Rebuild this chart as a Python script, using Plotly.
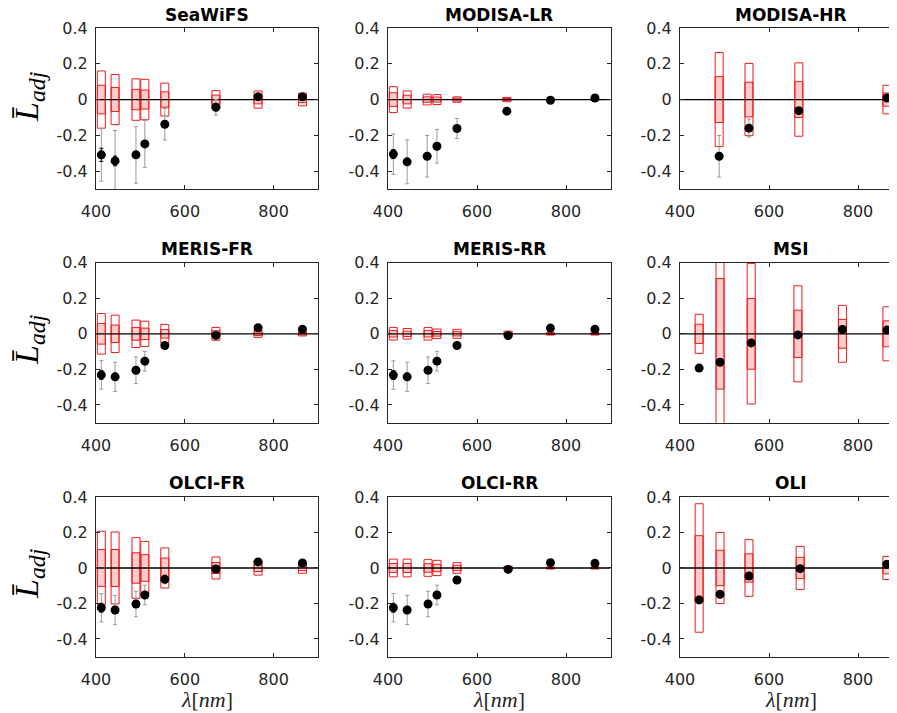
import plotly.graph_objects as go

# ---------------- data ----------------
SEAWIFS_WL = [412, 443, 490, 510, 555, 670, 765, 865]
SEAWIFS_OUTER = [0.160, 0.140, 0.116, 0.113, 0.092, 0.050, 0.048, 0.035]
SEAWIFS_INNER = [0.080, 0.067, 0.057, 0.053, 0.043, 0.025, 0.024, 0.017]
SEAWIFS_MEAN = [-0.309, -0.343, -0.309, -0.248, -0.138, -0.043, 0.016, 0.015]
SEAWIFS_SD = [0.147, 0.170, 0.158, 0.131, 0.088, 0.043, 0.010, 0.010]
SEAWIFS_SE = [0.037, 0.027, 0.015, 0.012, 0.010, 0.005, 0.003, 0.003]

MODISALR_WL = [412, 443, 488, 510, 555, 667, 765, 865]
MODISALR_OUTER = [0.072, 0.048, 0.030, 0.028, 0.015, 0.012, 0.005, 0.005]
MODISALR_INNER = [0.038, 0.024, 0.015, 0.014, 0.008, 0.006, 0.003, 0.003]
MODISALR_MEAN = [-0.305, -0.348, -0.317, -0.261, -0.162, -0.065, -0.004, 0.009]
MODISALR_SD = [0.113, 0.123, 0.116, 0.094, 0.056, 0.008, 0.005, 0.005]
MODISALR_SE = [0.025, 0.015, 0.012, 0.010, 0.008, 0.003, 0.002, 0.002]

MODISAHR_WL = [488, 555, 667, 865]
MODISAHR_OUTER = [0.263, 0.202, 0.205, 0.080]
MODISAHR_INNER = [0.128, 0.097, 0.100, 0.037]
MODISAHR_MEAN = [-0.317, -0.160, -0.062, 0.009]
MODISAHR_SD = [0.116, 0.050, 0.010, 0.005]
MODISAHR_SE = [0.015, 0.012, 0.004, 0.002]

MERISFR_WL = [412, 443, 490, 510, 555, 670, 765, 865]
MERISFR_OUTER = [0.114, 0.105, 0.077, 0.071, 0.053, 0.036, 0.020, 0.012]
MERISFR_INNER = [0.058, 0.049, 0.036, 0.032, 0.024, 0.017, 0.010, 0.006]
MERISFR_MEAN = [-0.231, -0.242, -0.205, -0.154, -0.066, -0.009, 0.034, 0.025]
MERISFR_SD = [0.080, 0.082, 0.075, 0.055, 0.015, 0.010, 0.005, 0.005]
MERISFR_SE = [0.025, 0.020, 0.012, 0.010, 0.005, 0.003, 0.002, 0.002]

MERISRR_WL = [412, 443, 490, 510, 555, 670, 765, 865]
MERISRR_OUTER = [0.035, 0.030, 0.035, 0.027, 0.025, 0.015, 0.007, 0.007]
MERISRR_INNER = [0.018, 0.015, 0.018, 0.013, 0.012, 0.007, 0.004, 0.004]
MERISRR_MEAN = [-0.232, -0.242, -0.205, -0.154, -0.066, -0.010, 0.032, 0.025]
MERISRR_SD = [0.080, 0.082, 0.075, 0.055, 0.015, 0.010, 0.005, 0.005]
MERISRR_SE = [0.025, 0.020, 0.012, 0.010, 0.005, 0.003, 0.002, 0.002]

MSI_WL = [443, 490, 560, 665, 765, 865]
MSI_OUTER = [0.110, 0.620, 0.395, 0.270, 0.160, 0.152]
MSI_INNER = [0.054, 0.311, 0.199, 0.133, 0.081, 0.073]
MSI_MEAN = [-0.193, -0.160, -0.051, -0.006, 0.024, 0.021]
MSI_SD = [0.010, 0.010, 0.008, 0.005, 0.005, 0.005]
MSI_SE = [0.004, 0.004, 0.003, 0.002, 0.002, 0.002]

OLCIFR_WL = [412, 443, 490, 510, 555, 670, 765, 865]
OLCIFR_OUTER = [0.207, 0.203, 0.171, 0.150, 0.113, 0.062, 0.040, 0.030]
OLCIFR_INNER = [0.104, 0.104, 0.086, 0.075, 0.056, 0.031, 0.020, 0.015]
OLCIFR_MEAN = [-0.224, -0.237, -0.203, -0.152, -0.064, -0.006, 0.034, 0.028]
OLCIFR_SD = [0.080, 0.082, 0.072, 0.055, 0.025, 0.010, 0.005, 0.005]
OLCIFR_SE = [0.025, 0.020, 0.012, 0.010, 0.005, 0.003, 0.002, 0.002]

OLCIRR_WL = [412, 443, 490, 510, 555, 670, 765, 865]
OLCIRR_OUTER = [0.050, 0.050, 0.047, 0.043, 0.030, 0.010, 0.006, 0.006]
OLCIRR_INNER = [0.025, 0.025, 0.024, 0.021, 0.015, 0.005, 0.003, 0.003]
OLCIRR_MEAN = [-0.224, -0.237, -0.203, -0.152, -0.068, -0.008, 0.030, 0.026]
OLCIRR_SD = [0.080, 0.082, 0.072, 0.055, 0.015, 0.008, 0.005, 0.005]
OLCIRR_SE = [0.025, 0.020, 0.012, 0.010, 0.005, 0.003, 0.002, 0.002]

OLI_WL = [443, 490, 555, 670, 865]
OLI_OUTER = [0.362, 0.200, 0.160, 0.122, 0.065]
OLI_INNER = [0.182, 0.100, 0.080, 0.060, 0.033]
OLI_MEAN = [-0.180, -0.148, -0.045, -0.004, 0.021]
OLI_SD = [0.020, 0.020, 0.015, 0.010, 0.005]
OLI_SE = [0.020, 0.018, 0.006, 0.003, 0.002]

PANEL_TITLES = ["SeaWiFS", "MODISA-LR", "MODISA-HR",
                "MERIS-FR", "MERIS-RR", "MSI",
                "OLCI-FR", "OLCI-RR", "OLI"]

X_TICKS = [400, 600, 800]
X_TICK_LABELS = ["400", "600", "800"]
Y_TICKS = [-0.4, -0.2, 0, 0.2, 0.4]
Y_TICK_LABELS = ["-0.4", "-0.2", "0", "0.2", "0.4"]

PANELS = [
    (PANEL_TITLES[0], SEAWIFS_WL, SEAWIFS_OUTER, SEAWIFS_INNER, SEAWIFS_MEAN, SEAWIFS_SD, SEAWIFS_SE),
    (PANEL_TITLES[1], MODISALR_WL, MODISALR_OUTER, MODISALR_INNER, MODISALR_MEAN, MODISALR_SD, MODISALR_SE),
    (PANEL_TITLES[2], MODISAHR_WL, MODISAHR_OUTER, MODISAHR_INNER, MODISAHR_MEAN, MODISAHR_SD, MODISAHR_SE),
    (PANEL_TITLES[3], MERISFR_WL, MERISFR_OUTER, MERISFR_INNER, MERISFR_MEAN, MERISFR_SD, MERISFR_SE),
    (PANEL_TITLES[4], MERISRR_WL, MERISRR_OUTER, MERISRR_INNER, MERISRR_MEAN, MERISRR_SD, MERISRR_SE),
    (PANEL_TITLES[5], MSI_WL, MSI_OUTER, MSI_INNER, MSI_MEAN, MSI_SD, MSI_SE),
    (PANEL_TITLES[6], OLCIFR_WL, OLCIFR_OUTER, OLCIFR_INNER, OLCIFR_MEAN, OLCIFR_SD, OLCIFR_SE),
    (PANEL_TITLES[7], OLCIRR_WL, OLCIRR_OUTER, OLCIRR_INNER, OLCIRR_MEAN, OLCIRR_SD, OLCIRR_SE),
    (PANEL_TITLES[8], OLI_WL, OLI_OUTER, OLI_INNER, OLI_MEAN, OLI_SD, OLI_SE),
]

# ---------------- style / geometry (pixel positions in the 897x713 view) ----------------
VIEW_W, VIEW_H = 897, 713
PAGE_MARGIN = 8  # default body margin of the html page
W, H = VIEW_W - PAGE_MARGIN, VIEW_H - PAGE_MARGIN
X_MIN, X_MAX = 400, 900
Y_MIN, Y_MAX = -0.5, 0.4
BOX_HW = 9  # half width of the boxes in nm
COL_PX = [(96, 318), (388, 610.5), (680, 902.5)]
ROW_PX = [(28, 189), (262.7, 422.7), (497, 656.7)]
TITLE_Y_PX = [15, 249, 483]
YLAB_Y_PX = [97, 340, 574]
YLAB_X_PX = 29
XLAB_Y_PX = 699
AX = "#262626"
RED = "#ee1c1c"
PINK = "rgba(255,0,0,0.2)"
GRAY = "#9a9a9a"
TICKFONT = dict(family="DejaVu Sans", size=16, color=AX)


def fx(p):
    return (p - PAGE_MARGIN) / W


def fy(p):
    return 1 - (p - PAGE_MARGIN) / H


fig = go.Figure()
layout = dict(width=W, height=H, margin=dict(l=0, r=0, t=0, b=0, autoexpand=False),
              paper_bgcolor="white", plot_bgcolor="white", showlegend=False)
shapes = []
annotations = []

for i, (name, wl, outer, inner, mean, sd, se) in enumerate(PANELS):
    r, c = divmod(i, 3)
    k = "" if i == 0 else str(i + 1)
    x0px, x1px = COL_PX[c]
    y0px, y1px = ROW_PX[r]
    vis_end = min(x1px, VIEW_W)
    xr_end = X_MIN + (vis_end - x0px) / (x1px - x0px) * (X_MAX - X_MIN)
    layout["xaxis" + k] = dict(
        domain=[fx(x0px), min(fx(vis_end), 1.0)], range=[X_MIN, xr_end], anchor="y" + k,
        tickvals=X_TICKS, ticktext=X_TICK_LABELS, ticks="inside", ticklen=4,
        tickcolor=AX, showline=True, linecolor=AX, linewidth=1, mirror="ticks",
        showgrid=False, zeroline=False, tickfont=TICKFONT, ticklabelstandoff=8,
        automargin=False)
    layout["yaxis" + k] = dict(
        domain=[fy(y1px), fy(y0px)], range=[Y_MIN, Y_MAX], anchor="x" + k,
        tickvals=Y_TICKS, ticktext=Y_TICK_LABELS, ticks="inside", ticklen=4,
        tickcolor=AX, showline=True, linecolor=AX, linewidth=1,
        mirror="ticks" if c < 2 else False,
        showgrid=False, zeroline=False, tickfont=TICKFONT, ticklabelstandoff=4,
        automargin=False)

    xref, yref = "x" + k, "y" + k
    for w, o, n in zip(wl, outer, inner):
        shapes.append(dict(type="rect", xref=xref, yref=yref, x0=w - BOX_HW, x1=w + BOX_HW,
                           y0=-o, y1=o, line=dict(color=RED, width=1),
                           fillcolor="rgba(0,0,0,0)", layer="below"))
        shapes.append(dict(type="rect", xref=xref, yref=yref, x0=w - BOX_HW, x1=w + BOX_HW,
                           y0=-n, y1=n, line=dict(color=RED, width=1),
                           fillcolor=PINK, layer="below"))
    shapes.append(dict(type="line", xref=xref, yref=yref, x0=X_MIN, x1=X_MAX, y0=0, y1=0,
                       line=dict(color="black", width=1.3), layer="below"))

    fig.add_trace(go.Scatter(
        x=wl, y=mean, mode="markers", xaxis=xref, yaxis=yref,
        marker=dict(color="rgba(0,0,0,0)", size=2),
        error_y=dict(type="data", array=sd, color=GRAY, thickness=1, width=2),
        hoverinfo="skip"))
    fig.add_trace(go.Scatter(
        x=wl, y=mean, mode="markers", xaxis=xref, yaxis=yref,
        marker=dict(color="black", size=9),
        error_y=dict(type="data", array=se, color="black", thickness=1, width=2)))

    annotations.append(dict(text="<b>" + name + "</b>", xref="paper", yref="paper",
                            x=fx((x0px + x1px) / 2), y=fy(TITLE_Y_PX[r]),
                            xanchor="center", yanchor="middle", showarrow=False,
                            font=dict(family="DejaVu Sans", size=17, color="black")))
    if c == 0:
        annotations.append(dict(text="<i>L\u0304<sub>adj</sub></i>", xref="paper", yref="paper",
                                x=fx(YLAB_X_PX), y=fy(YLAB_Y_PX[r]), textangle=-90,
                                xanchor="center", yanchor="middle", showarrow=False,
                                font=dict(family="Liberation Serif", size=34, color="black")))
    if r == 2:
        annotations.append(dict(text="<i>\u03bb</i>[<i>nm</i>]", xref="paper", yref="paper",
                                x=fx((x0px + x1px) / 2), y=fy(XLAB_Y_PX),
                                xanchor="center", yanchor="middle", showarrow=False,
                                font=dict(family="Liberation Serif", size=22, color=AX)))

layout["shapes"] = shapes
layout["annotations"] = annotations
fig.update_layout(**layout)
fig.write_html("out.html")
